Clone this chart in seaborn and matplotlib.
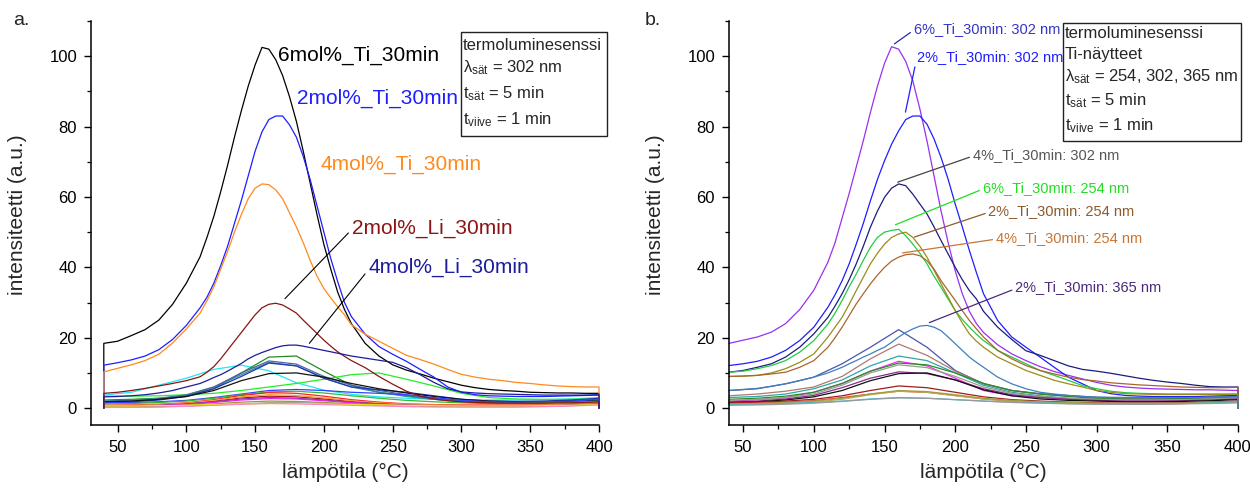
import matplotlib
matplotlib.use("Agg")
import matplotlib.pyplot as plt
from matplotlib.patches import Rectangle
from matplotlib.ticker import MultipleLocator
import pandas as pd
import seaborn as sns

# ---------------- temperature grids (°C) ----------------
T_MAIN = list(range(40, 110, 10)) + list(range(110, 220, 5)) + list(range(220, 401, 10))
T_MINOR = list(range(40, 401, 20))

# ---------------- panel a: main curves (values on T_MAIN) ----------------
A_6TI = [18.4, 19.0, 20.6, 22.3, 25.0, 29.5, 35.5,
         43.0, 48.5, 54.5, 61.5, 69.0, 77.0, 84.5, 91.5, 97.5, 102.5, 102.0, 99.0, 94.5, 88.5, 81.5,
         73.0, 64.0, 55.0, 46.5, 39.5, 33.0, 28.0,
         24.0, 18.4, 14.8, 12.3, 10.8, 9.7, 8.5, 7.5, 6.5, 5.8, 5.3, 5.0, 4.8, 4.5, 4.4, 4.3, 4.3, 4.2, 4.2]
A_2TI = [12.2, 12.9, 13.7, 14.8, 16.6, 19.5, 23.5,
         28.5, 31.5, 35.5, 40.5, 46.0, 52.5, 59.0, 66.0, 73.0, 78.5, 82.0, 83.0, 83.0, 80.5, 77.0,
         71.5, 65.0, 57.5, 50.0, 42.5, 36.0, 30.0,
         26.0, 21.0, 17.5, 15.3, 13.3, 11.0, 8.8, 6.0, 4.5, 3.8, 3.5, 3.4, 3.3, 3.3, 3.3, 3.4, 3.5, 3.6, 3.7]
A_4TI = [10.3, 11.3, 12.3, 13.5, 15.3, 18.5, 22.5,
         27.0, 30.5, 34.5, 39.5, 44.5, 50.0, 55.0, 59.5, 62.5, 63.7, 63.5, 62.0, 59.5, 55.5, 51.5,
         47.0, 42.0, 37.5, 34.0, 31.3, 28.8, 26.5,
         23.7, 21.0, 19.0, 17.0, 15.0, 13.8, 12.5, 11.0, 9.6, 8.8, 8.2, 7.8, 7.3, 7.0, 6.6, 6.3, 6.1, 6.0, 6.0]
A_2LI = [4.2, 4.5, 5.0, 5.6, 6.3, 7.0, 7.8,
         8.9, 10.2, 11.8, 14.0, 16.5, 19.0, 21.5, 24.0, 26.5, 28.5, 29.5, 29.8, 29.3, 28.2, 27.0,
         25.0, 23.1, 21.2, 19.3, 17.6, 16.0, 14.7,
         13.5, 11.5, 9.0, 6.8, 4.8, 3.4, 2.6, 2.1, 1.8, 1.6, 1.5, 1.4, 1.4, 1.4, 1.4, 1.5, 1.5, 1.6, 1.8]
A_4LI = [3.2, 3.3, 3.5, 3.8, 4.3, 5.0, 6.0,
         7.0, 7.8, 8.7, 9.5, 10.5, 11.6, 12.7, 14.0, 15.0, 15.8, 16.5, 17.2, 17.7, 17.9, 17.9,
         17.6, 17.2, 16.8, 16.4, 16.0, 15.6, 15.2,
         14.8, 14.2, 13.6, 13.0, 11.5, 9.5, 7.3, 5.5, 4.6, 4.3, 4.1, 4.0, 3.9, 3.8, 3.7, 3.7, 3.7, 3.7, 3.8]

A_MAIN = {"6mol%_Ti_30min": A_6TI, "2mol%_Ti_30min": A_2TI, "4mol%_Ti_30min": A_4TI,
          "2mol%_Li_30min": A_2LI, "4mol%_Li_30min": A_4LI}
A_MAIN_COLORS = {"6mol%_Ti_30min": "#000000", "2mol%_Ti_30min": "#1e1eff",
                 "4mol%_Ti_30min": "#ff8a1c", "2mol%_Li_30min": "#8b1414",
                 "4mol%_Li_30min": "#1c1c9c"}

# ---------------- panel a: weaker curves (values on T_MINOR) ----------------
A_MINOR = {
    "a_cyan":   [3.7, 4.5, 6.5, 8.5, 11.0, 12.2, 10.6, 7.2, 5.1, 3.9, 3.2, 2.8, 2.5, 2.4, 2.3, 2.3, 2.4, 2.6, 3.0],
    "a_dgreen": [2.3, 2.5, 2.8, 3.5, 5.5, 10.0, 14.5, 14.8, 10.5, 6.5, 4.5, 3.5, 2.5, 1.8, 1.5, 1.5, 1.6, 1.8, 2.2],
    "a_lgreen": [3.4, 3.4, 3.5, 3.8, 4.2, 5.0, 6.0, 7.0, 8.2, 9.5, 10.0, 8.2, 6.3, 4.2, 3.0, 2.6, 2.5, 2.5, 2.7],
    "a_teal":   [2.0, 2.3, 2.8, 3.8, 6.0, 9.5, 13.0, 12.0, 8.5, 6.0, 4.5, 3.3, 2.5, 2.0, 1.8, 1.8, 1.9, 2.1, 2.5],
    "a_slate":  [1.8, 2.0, 2.6, 3.6, 6.0, 10.0, 13.4, 12.5, 9.0, 6.5, 5.0, 3.8, 2.8, 2.0, 1.7, 1.7, 1.8, 2.0, 2.4],
    "a_royal":  [1.5, 1.8, 2.3, 3.3, 5.5, 9.0, 12.8, 12.0, 8.5, 6.0, 5.2, 4.5, 3.5, 2.5, 2.0, 1.9, 2.0, 2.3, 2.8],
    "a_black":  [1.8, 2.0, 2.5, 3.3, 5.0, 7.8, 9.8, 10.0, 8.8, 7.0, 5.5, 4.3, 3.3, 2.5, 2.0, 1.8, 1.8, 2.0, 2.2],
    "a_blue":   [1.5, 1.6, 1.8, 2.2, 3.0, 4.0, 5.0, 5.3, 5.0, 4.5, 4.2, 3.8, 3.0, 2.2, 1.8, 1.7, 1.8, 2.0, 2.5],
    "a_green2": [1.2, 1.3, 1.6, 2.0, 2.8, 3.8, 4.6, 4.8, 4.3, 3.5, 2.8, 2.2, 1.8, 1.5, 1.3, 1.3, 1.4, 1.6, 2.0],
    "a_red":    [0.8, 0.9, 1.1, 1.5, 2.4, 3.6, 4.4, 4.2, 3.4, 2.4, 1.7, 1.2, 1.0, 0.9, 0.9, 0.9, 1.0, 1.2, 1.5],
    "a_dred":   [0.6, 0.7, 0.9, 1.3, 2.0, 2.9, 3.4, 3.2, 2.6, 1.9, 1.4, 1.0, 0.8, 0.7, 0.7, 0.7, 0.8, 1.0, 1.3],
    "a_orange": [0.7, 0.8, 1.0, 1.4, 2.2, 3.2, 3.8, 3.6, 2.9, 2.1, 1.5, 1.1, 0.9, 0.8, 0.8, 0.8, 0.9, 1.1, 1.4],
    "a_purple": [0.5, 0.6, 0.8, 1.2, 1.8, 2.6, 3.0, 2.8, 2.3, 1.7, 1.2, 0.9, 0.7, 0.6, 0.6, 0.6, 0.7, 0.9, 1.2],
    "a_magenta":[0.4, 0.5, 0.7, 1.0, 1.6, 2.3, 2.7, 2.6, 2.1, 1.5, 1.1, 0.8, 0.6, 0.5, 0.5, 0.5, 0.6, 0.8, 1.1],
    "a_olive":  [0.3, 0.4, 0.5, 0.8, 1.2, 1.7, 2.0, 1.9, 1.6, 1.2, 0.9, 0.7, 0.5, 0.4, 0.4, 0.4, 0.5, 0.7, 1.0],
    "a_gray":   [0.3, 0.3, 0.4, 0.6, 0.9, 1.2, 1.5, 1.5, 1.3, 1.1, 0.9, 0.7, 0.6, 0.5, 0.5, 0.5, 0.6, 0.8, 1.1],
    "a_yellow": [0.6, 0.6, 0.7, 0.8, 1.0, 1.2, 1.3, 1.3, 1.2, 1.0, 0.9, 0.8, 0.7, 0.6, 0.6, 0.6, 0.7, 0.8, 1.0],
    "a_pink":   [0.2, 0.2, 0.3, 0.5, 0.8, 1.1, 1.3, 1.2, 1.0, 0.8, 0.6, 0.4, 0.3, 0.3, 0.3, 0.3, 0.4, 0.6, 0.9],
}
A_MINOR_COLORS = {"a_cyan": "#22e5f5", "a_dgreen": "#228b22", "a_lgreen": "#22ee22",
                  "a_teal": "#2f8f8f", "a_slate": "#5060a8", "a_royal": "#2233bb",
                  "a_black": "#111111", "a_blue": "#3344ff", "a_green2": "#33bb33",
                  "a_red": "#ff2020", "a_dred": "#a01818", "a_orange": "#ff9933",
                  "a_purple": "#8833aa", "a_magenta": "#ee22ee", "a_olive": "#9a9a30",
                  "a_gray": "#888888", "a_yellow": "#f0f000", "a_pink": "#ff88bb"}

# ---------------- panel b: labelled curves (values on T_MAIN) ----------------
B_6TI_302 = [18.4, 19.3, 20.2, 21.6, 24.0, 28.0, 33.5,
             41.5, 47.0, 54.0, 61.0, 68.5, 76.0, 84.0, 91.5, 98.0, 102.7, 102.0, 98.5, 93.0, 85.0, 76.0,
             66.0, 56.0, 47.0, 39.0, 32.5, 27.5, 24.0,
             21.5, 18.0, 15.4, 13.5, 11.8, 10.4, 9.3, 8.3, 7.3, 6.5, 6.0, 5.7, 5.5, 5.4, 5.3, 5.2, 5.2, 5.1, 5.0]
B_2TI_302 = [12.1, 12.6, 13.3, 14.5, 16.4, 19.2, 23.0,
             28.7, 32.2, 36.2, 41.0, 46.6, 52.5, 58.9, 65.0, 70.3, 75.0, 78.8, 82.0, 83.0, 83.0, 80.7,
             76.5, 71.2, 65.0, 58.0, 51.5, 44.8, 38.5,
             32.5, 24.9, 20.2, 17.3, 14.5, 11.6, 8.8, 6.9, 5.0, 4.1, 3.6, 3.4, 3.3, 3.3, 3.3, 3.3, 3.4, 3.5, 3.6]
B_4TI_302 = [10.2, 10.7, 11.6, 12.6, 14.5, 17.3, 21.1,
             25.8, 29.0, 32.5, 36.5, 41.0, 46.0, 51.4, 56.0, 59.9, 62.5, 63.7, 63.2, 60.8, 58.0, 55.2,
             51.5, 47.6, 43.8, 40.0, 36.5, 33.4, 31.0,
             27.5, 23.0, 19.5, 16.3, 15.0, 13.5, 12.0, 11.0, 10.5, 9.9, 9.2, 8.5, 7.9, 7.4, 7.0, 6.5, 6.1, 6.0, 6.0]
B_6TI_254 = [10.2, 10.5, 11.2, 12.1, 13.5, 15.9, 19.2,
             23.9, 27.0, 30.6, 34.5, 38.1, 42.0, 45.7, 48.5, 50.0, 50.5, 50.8, 49.0, 46.6, 44.0, 41.0,
             37.5, 34.3, 31.0, 27.7, 25.2, 23.0, 21.0,
             19.2, 16.4, 14.5, 12.6, 10.7, 9.3, 7.9, 6.4, 5.5, 4.8, 4.4, 4.2, 4.1, 4.0, 4.0, 4.0, 4.0, 4.0, 4.0]
B_2TI_254 = [9.0, 9.1, 9.3, 10.0, 11.2, 13.0, 15.4,
             20.2, 23.0, 25.8, 29.5, 33.4, 37.2, 41.0, 44.0, 46.6, 48.5, 49.5, 50.0, 48.5, 46.0, 42.9,
             39.2, 35.3, 31.5, 27.7, 24.2, 21.1, 19.0,
             17.3, 14.5, 12.6, 10.7, 9.3, 7.9, 6.9, 6.0, 5.0, 4.5, 4.1, 4.0, 3.9, 3.9, 3.9, 3.9, 3.9, 3.9, 4.0]
B_4TI_254 = [9.0, 9.1, 9.3, 9.7, 10.2, 11.6, 13.5,
             17.3, 20.0, 23.0, 26.3, 29.6, 32.5, 35.3, 37.8, 40.0, 41.8, 42.9, 43.6, 43.8, 43.3, 41.9,
             39.5, 36.2, 33.4, 30.6, 27.7, 24.9, 22.5,
             20.2, 16.4, 14.0, 12.1, 10.7, 9.7, 8.8, 8.1, 7.7, 7.2, 6.9, 6.6, 6.4, 6.2, 6.0, 5.9, 5.8, 5.8, 5.9]
B_2TI_365 = [5.0, 5.3, 5.6, 6.2, 6.9, 7.8, 8.8,
             10.0, 10.8, 11.6, 12.6, 13.5, 14.5, 15.4, 16.4, 17.3, 18.7, 20.2, 21.5, 22.5, 23.3, 23.5,
             23.0, 22.0, 20.2, 18.3, 16.4, 14.5, 13.0,
             11.6, 8.8, 6.9, 5.5, 4.5, 4.0, 3.6, 3.3, 3.1, 3.0, 3.0, 3.0, 3.0, 3.0, 3.0, 3.0, 3.1, 3.2, 3.3]

B_MAIN = {"6%_Ti_30min: 302 nm": B_6TI_302, "2%_Ti_30min: 302 nm": B_2TI_302,
          "4%_Ti_30min: 302 nm": B_4TI_302, "6%_Ti_30min: 254 nm": B_6TI_254,
          "2%_Ti_30min: 254 nm": B_2TI_254, "4%_Ti_30min: 254 nm": B_4TI_254,
          "2%_Ti_30min: 365 nm": B_2TI_365}
B_MAIN_COLORS = {"6%_Ti_30min: 302 nm": "#9b30f0", "2%_Ti_30min: 302 nm": "#1e1eff",
                 "4%_Ti_30min: 302 nm": "#1c1c80", "6%_Ti_30min: 254 nm": "#22cc44",
                 "2%_Ti_30min: 254 nm": "#9a8c1a", "4%_Ti_30min: 254 nm": "#a8662e",
                 "2%_Ti_30min: 365 nm": "#3f7fbf"}

# ---------------- panel b: weaker curves (values on T_MINOR) ----------------
B_MINOR = {
    "b_slate":   [5.0, 5.5, 6.9, 8.8, 12.6, 17.3, 22.3, 17.3, 10.7, 6.9, 5.0, 4.1, 3.6, 3.1, 3.0, 3.0, 3.0, 3.1, 3.3],
    "b_rosy":    [3.5, 4.0, 4.8, 6.0, 9.0, 14.0, 18.2, 15.0, 10.5, 7.0, 5.0, 4.0, 3.4, 3.0, 2.8, 2.8, 2.9, 3.0, 3.2],
    "b_teal":    [3.0, 3.3, 4.0, 5.5, 8.0, 12.0, 14.8, 13.5, 10.0, 6.5, 4.5, 3.5, 2.8, 2.5, 2.4, 2.4, 2.5, 2.7, 3.0],
    "b_magenta": [2.0, 2.4, 3.0, 4.5, 7.0, 10.5, 13.3, 12.0, 8.5, 5.0, 3.5, 3.0, 2.7, 2.5, 2.4, 2.4, 2.5, 2.7, 3.0],
    "b_green":   [2.5, 2.8, 3.4, 4.5, 7.0, 10.5, 12.8, 12.3, 10.0, 7.0, 5.0, 4.0, 3.3, 2.8, 2.6, 2.6, 2.7, 2.9, 3.2],
    "b_grgreen": [2.2, 2.5, 3.0, 4.0, 6.5, 10.0, 12.3, 11.5, 9.0, 6.0, 4.2, 3.3, 2.8, 2.5, 2.3, 2.3, 2.4, 2.6, 2.9],
    "b_purple":  [1.8, 2.0, 2.6, 3.6, 5.8, 8.5, 10.3, 9.8, 8.0, 5.5, 3.8, 3.0, 2.5, 2.2, 2.0, 2.0, 2.1, 2.3, 2.6],
    "b_black":   [1.5, 1.8, 2.3, 3.2, 5.0, 7.8, 9.8, 10.0, 8.0, 5.2, 3.5, 2.6, 2.2, 2.0, 1.8, 1.8, 1.9, 2.1, 2.4],
    "b_dred":    [1.5, 1.7, 2.0, 2.5, 3.5, 5.0, 6.3, 5.8, 4.5, 3.2, 2.4, 2.0, 1.7, 1.5, 1.4, 1.4, 1.5, 1.7, 2.0],
    "b_red":     [1.3, 1.4, 1.7, 2.1, 3.0, 4.0, 4.8, 4.5, 3.6, 2.6, 2.0, 1.6, 1.4, 1.3, 1.2, 1.2, 1.3, 1.5, 1.8],
    "b_khaki":   [1.0, 1.1, 1.3, 1.7, 2.5, 3.8, 4.8, 4.5, 3.5, 2.6, 2.0, 1.6, 1.4, 1.3, 1.2, 1.2, 1.3, 1.5, 1.8],
    "b_olive":   [1.2, 1.3, 1.6, 2.0, 2.8, 4.0, 5.0, 4.7, 3.8, 2.8, 2.2, 1.8, 1.6, 1.4, 1.3, 1.3, 1.4, 1.6, 1.9],
    "b_cyan":    [1.0, 1.1, 1.3, 1.6, 2.0, 2.6, 3.0, 2.8, 2.4, 2.0, 1.7, 1.5, 1.3, 1.2, 1.2, 1.2, 1.3, 1.4, 1.6],
    "b_gray":    [0.8, 0.9, 1.1, 1.4, 1.9, 2.5, 2.9, 2.8, 2.4, 2.0, 1.6, 1.4, 1.2, 1.1, 1.1, 1.1, 1.2, 1.3, 1.5],
}
B_MINOR_COLORS = {"b_slate": "#4a55a8", "b_rosy": "#b07870", "b_teal": "#30a5a5",
                  "b_magenta": "#ff22ff", "b_green": "#2a8c2a", "b_grgreen": "#8fa585",
                  "b_purple": "#8a2a8a", "b_black": "#111111", "b_dred": "#a01c1c",
                  "b_red": "#ff2020", "b_khaki": "#b8b060", "b_olive": "#a0a040",
                  "b_cyan": "#40c0d8", "b_gray": "#9a9a9a"}

START_LEVEL_A = 0.0   # curves in (a) rise from zero at the first temperature
END_LEVEL = 0.0       # all curves drop to zero at the last temperature

X_TICKS = [50, 100, 150, 200, 250, 300, 350, 400]
Y_TICKS = [0, 20, 40, 60, 80, 100]

# ---------------- style ----------------
sns.set_style("ticks")
plt.rcParams["font.family"] = ["Liberation Sans", "DejaVu Sans"]
plt.rcParams["mathtext.fontset"] = "custom"
plt.rcParams["mathtext.rm"] = "Liberation Sans"
plt.rcParams["mathtext.it"] = "Liberation Sans:italic"

W, H = 1250, 490
fig = plt.figure(figsize=(12.5, 4.9), dpi=100)


def fx(px):
    return px / W


def fy(py):
    return 1 - py / H


def build_frame(main, minor, start_level):
    frames = []
    for name, vals in list(minor.items()) + list(main.items()):
        grid = T_MINOR if name in minor else T_MAIN
        assert len(grid) == len(vals), (name, len(vals), len(grid))
        xs = list(grid)
        ys = list(vals)
        if start_level is not None:
            xs = [grid[0]] + xs
            ys = [start_level] + ys
        xs = xs + [grid[-1]]
        ys = ys + [END_LEVEL]
        frames.append(pd.DataFrame({"T": xs, "I": ys, "sample": name}))
    return pd.concat(frames, ignore_index=True)


def style_axes(ax, xlim):
    ax.set_xlim(*xlim)
    ax.set_ylim(-4.8, 110)
    ax.set_xticks(X_TICKS)
    ax.set_yticks(Y_TICKS)
    ax.xaxis.set_minor_locator(MultipleLocator(25))
    ax.yaxis.set_minor_locator(MultipleLocator(10))
    sns.despine(ax=ax)
    for s in ("left", "bottom"):
        ax.spines[s].set_linewidth(1.1)
        ax.spines[s].set_color("black")
    ax.tick_params(which="major", direction="out", length=5, width=1.0, labelsize=12,
                   color="black", labelcolor="black")
    ax.tick_params(which="minor", direction="out", length=3, width=0.9, color="black")
    ax.tick_params(axis="x", which="major", pad=5.5)
    ax.tick_params(axis="y", which="major", pad=5)
    ax.set_xlabel("lämpötila (°C)", fontsize=15)
    ax.set_ylabel("intensiteetti (a.u.)", fontsize=15)
    ax.xaxis.set_label_coords(0.5, -0.095)
    ax.yaxis.set_label_coords(-0.125, 0.52)
    for ln in ax.lines:
        ln.set_clip_on(False)


def draw_panel(ax, main, main_colors, minor, minor_colors, start_level):
    df = build_frame(main, minor, start_level)
    palette = {**minor_colors, **main_colors}
    sns.lineplot(data=df, x="T", y="I", hue="sample",
                 hue_order=list(minor) + list(main), palette=palette,
                 estimator=None, sort=False, legend=False, lw=0.9, ax=ax)


# ---------------- panel a ----------------
axA = fig.add_axes([fx(91), fy(425), (599 - 91) / W, (425 - 21) / H])
draw_panel(axA, A_MAIN, A_MAIN_COLORS, A_MINOR, A_MINOR_COLORS, START_LEVEL_A)
style_axes(axA, (30.7, 400))

axA.text(167, 100.2, "6mol%_Ti_30min", color=A_MAIN_COLORS["6mol%_Ti_30min"], fontsize=15, va="center")
axA.text(180.2, 87.9, "2mol%_Ti_30min", color=A_MAIN_COLORS["2mol%_Ti_30min"], fontsize=15, va="center")
axA.text(197.9, 69.4, "4mol%_Ti_30min", color=A_MAIN_COLORS["4mol%_Ti_30min"], fontsize=15, va="center")
axA.annotate("2mol%_Li_30min", xy=(171.7, 31.1), xytext=(220.2, 51.0),
             color=A_MAIN_COLORS["2mol%_Li_30min"], fontsize=15, va="center",
             arrowprops=dict(arrowstyle="-", color="black", lw=0.8, shrinkA=0, shrinkB=0,
                             relpos=(0, 0.45)))
axA.annotate("4mol%_Li_30min", xy=(189.4, 18.4), xytext=(232.3, 40.1),
             color=A_MAIN_COLORS["4mol%_Li_30min"], fontsize=15, va="center",
             arrowprops=dict(arrowstyle="-", color="black", lw=0.8, shrinkA=0, shrinkB=0,
                             relpos=(0, 0.35)))

# ---------------- panel b ----------------
axB = fig.add_axes([fx(729), fy(425), (1238 - 729) / W, (425 - 21) / H])
draw_panel(axB, B_MAIN, B_MAIN_COLORS, B_MINOR, B_MINOR_COLORS, None)
style_axes(axB, (40, 400))

B_LABELS = [
    ("6%_Ti_30min: 302 nm", "#3434c8", "#2a2aa8", (170.6, 107.8), (157.0, 103.5)),
    ("2%_Ti_30min: 302 nm", "#1e1eff", "#1e1eff", (172.8, 99.9), (164.8, 84.1)),
    ("4%_Ti_30min: 302 nm", "#555555", "#444444", (212.4, 72.0), (159.3, 64.2)),
    ("6%_Ti_30min: 254 nm", "#22dd22", "#22dd22", (219.3, 62.6), (157.7, 52.1)),
    ("2%_Ti_30min: 254 nm", "#8c5a2c", "#8c5a2c", (223.5, 56.0), (171.1, 48.6)),
    ("4%_Ti_30min: 254 nm", "#c87533", "#c87533", (228.7, 48.4), (162.8, 44.1)),
    ("2%_Ti_30min: 365 nm", "#4b2a7b", "#4b2a7b", (242.4, 34.3), (181.7, 24.3)),
]
for text, tcol, lcol, xytext, xy in B_LABELS:
    axB.annotate(text, xy=xy, xytext=xytext, color=tcol, fontsize=10.5, va="center",
                 arrowprops=dict(arrowstyle="-", color=lcol, lw=0.9, shrinkA=0, shrinkB=0,
                                 relpos=(0, 0.4)))

# ---------------- info boxes ----------------
fig.patches.append(Rectangle((fx(461), fy(136)), (607 - 461) / W, (136 - 32) / H,
                             transform=fig.transFigure, fill=False, edgecolor="#222222", lw=1.0))
for yy, s in zip([45, 68, 94, 120],
                 ["termoluminesenssi", r"λ$_{\mathregular{sät}}$ = 302 nm",
                  r"t$_{\mathregular{sät}}$ = 5 min", r"t$_{\mathregular{viive}}$ = 1 min"]):
    fig.text(fx(463), fy(yy), s, fontsize=12, va="center", ha="left")

fig.patches.append(Rectangle((fx(1063), fy(141)), (1241 - 1063) / W, (141 - 23) / H,
                             transform=fig.transFigure, fill=False, edgecolor="#222222", lw=1.0))
for yy, s in zip([34, 55, 77, 101, 126],
                 ["termoluminesenssi", "Ti-näytteet", r"λ$_{\mathregular{sät}}$ = 254, 302, 365 nm",
                  r"t$_{\mathregular{sät}}$ = 5 min", r"t$_{\mathregular{viive}}$ = 1 min"]):
    fig.text(fx(1065), fy(yy), s, fontsize=12, va="center", ha="left")

# ---------------- panel letters ----------------
fig.text(fx(13), fy(25), "a.", fontsize=14, va="baseline")
fig.text(fx(645), fy(25), "b.", fontsize=14, va="baseline")

fig.savefig("out.png", dpi=100)
